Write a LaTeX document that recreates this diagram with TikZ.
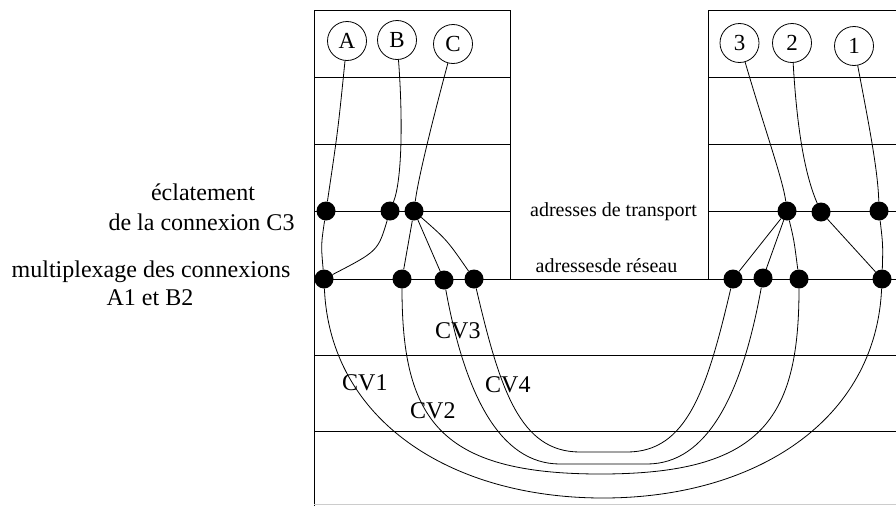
\documentclass[tikz,border=0pt]{standalone}
\usepackage{fontspec}
\setmainfont{Liberation Serif}
\begin{document}
\begin{tikzpicture}[x=1pt,y=-1pt,
  frame/.style={line width=0.9pt},
  wire/.style={line width=0.8pt},
  dot/.style={circle,fill=black,inner sep=0pt,minimum size=19pt},
  station/.style={circle,draw,line width=0.8pt,inner sep=0pt,minimum size=39pt,font=\fontsize{23}{25}\selectfont},
  lbl/.style={font=\fontsize{24}{29}\selectfont,inner sep=0pt,anchor=base},
  addr/.style={font=\fontsize{20}{24}\selectfont,inner sep=0pt,anchor=base},
  cv/.style={font=\fontsize{24}{28}\selectfont,inner sep=0pt,anchor=base west}]
\useasboundingbox (0,0) rectangle (896,506);

% frames
\draw[frame] (314,506) -- (314,10) -- (510,10) -- (510,279);
\draw[frame] (314,77) -- (510,77);
\draw[frame] (314,144) -- (510,144);
\draw[frame] (314,211) -- (510,211);
\draw[frame] (314,279) -- (896,279);
\draw[frame] (896,10) -- (708,10) -- (708,279);
\draw[frame] (708,77) -- (896,77);
\draw[frame] (708,144) -- (896,144);
\draw[frame] (708,211) -- (896,211);
\draw[frame] (314,355) -- (896,355);
\draw[frame] (314,431) -- (896,431);
\draw[line width=0.8pt,black!20] (314,504.5) -- (896,504.5);

% stations
\node[station] (A) at (347,41) {A};
\node[station] (B) at (397,40) {B};
\node[station] (C) at (453,44) {C};
\node[station] (N3) at (739.5,43) {3};
\node[station] (N2) at (792,43) {2};
\node[station] (N1) at (854,46) {1};

% dots
\node[dot] (tL1) at (326,211) {};
\node[dot] (tL2) at (390,211) {};
\node[dot] (tL3) at (414,211) {};
\node[dot] (nL1) at (324,279) {};
\node[dot] (nL2) at (402,279) {};
\node[dot] (nL3) at (444,280) {};
\node[dot] (nL4) at (474,279) {};
\node[dot] (tR1) at (787,211) {};
\node[dot] (tR2) at (821,212) {};
\node[dot] (tR3) at (879,211) {};
\node[dot] (nR1) at (733,279) {};
\node[dot] (nR2) at (763,278) {};
\node[dot] (nR3) at (799,279) {};
\node[dot] (nR4) at (882,279) {};

% labels
\node[lbl] (l1) at (203,200) {éclatement};
\node[lbl] (l2) at (201.5,230) {de la connexion C3};
\node[lbl] (l3) at (151,277) {multiplexage des connexions};
\node[lbl] (l4) at (150,305) {A1 et B2};
\node[addr] (ta) at (613.5,216) {adresses de transport};
\node[addr] (na) at (606.5,272) {adressesde réseau};
\node[cv] (cv1) at (342,390) {CV1};
\node[cv] (cv2) at (410,418) {CV2};
\node[cv] (cv3) at (435,338) {CV3};
\node[cv] (cv4) at (485,392) {CV4};

% station to transport
\draw[wire] (A) .. controls (338,130) .. (tL1);
\draw[wire] (B) .. controls (403,120) and (402,180) .. (tL2);
\draw[wire] (C) .. controls (430,130) and (418,180) .. (tL3);
\draw[wire] (N3) .. controls (765,130) and (783,180) .. (tR1);
\draw[wire] (N2) .. controls (797,130) and (805,175) .. (tR2);
\draw[wire] (N1) .. controls (868,120) and (878,170) .. (tR3);

% transport to network
\draw[wire] (tL1) .. controls (321,245) .. (nL1);
\draw[wire] (tL2) .. controls (378,251) .. (nL1);
\draw[wire] (tL3) -- (nL2);
\draw[wire] (tL3) -- (nL3);
\draw[wire] (tL3) .. controls (447,240) .. (nL4);
\draw[wire] (tR1) -- (nR1);
\draw[wire] (tR1) -- (nR2);
\draw[wire] (tR1) .. controls (794,240) .. (nR3);
\draw[wire] (tR2) -- (nR4);
\draw[wire] (tR3) .. controls (883,245) .. (nR4);

% virtual circuits
\draw[wire] (nL1) .. controls (330,420) and (450,498) .. (603,498)
  .. controls (756,498) and (876,420) .. (nR4);
\draw[wire] (nL2) .. controls (402,420) and (440,474) .. (600.5,474)
  .. controls (761,474) and (799,420) .. (nR3);
\draw[wire] (nL3) .. controls (465,395) and (500,464) .. (560,464)
  -- (647,464) .. controls (707,464) and (742,395) .. (nR2);
\draw[wire] (nL4) .. controls (500,390) and (520,452) .. (580,452)
  -- (627,452) .. controls (687,452) and (707,390) .. (nR1);
\end{tikzpicture}
\end{document}
